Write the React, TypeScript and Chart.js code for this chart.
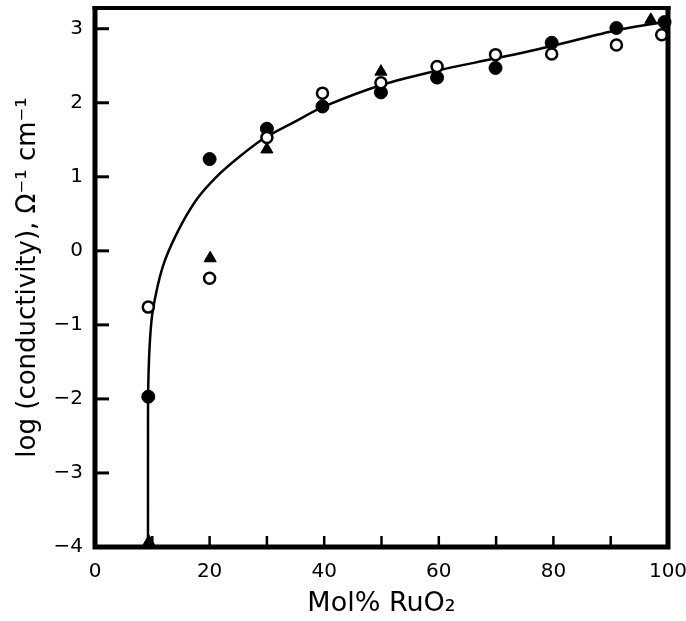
import React, { useEffect, useRef } from "react";
import { Chart, registerables } from "chart.js";

Chart.register(...registerables);

// Filled circles
const filledCircleX = [9.3, 20, 30, 39.7, 49.9, 59.7, 69.9, 79.7, 91, 99.4];
const filledCircleY = [-1.97, 1.24, 1.65, 1.95, 2.14, 2.34, 2.47, 2.81, 3.01, 3.09];
// Open circles
const openCircleX = [9.3, 20, 30, 39.7, 49.9, 59.7, 69.9, 79.7, 91, 98.9];
const openCircleY = [-0.76, -0.37, 1.53, 2.13, 2.27, 2.49, 2.65, 2.66, 2.78, 2.92];
// Filled triangles
const triangleX = [9.4, 20.1, 30, 49.9, 97];
const triangleY = [-3.93, -0.1, 1.37, 2.42, 3.12];
// Fitted curve
const curveX = [9.25, 9.25, 9.3, 9.6, 10.1, 11.8, 14.3, 17.7, 21.2, 25.2, 29.5, 35, 40, 50, 60, 70, 80, 91, 98.5];
const curveY = [-4, -2.5, -1.8, -1.2, -0.8, -0.22, 0.24, 0.69, 1.0, 1.27, 1.52, 1.75, 1.95, 2.24, 2.44, 2.6, 2.77, 2.98, 3.08];

// Inward tick marks
const xMinorTicks = [10, 20, 30, 40, 50, 60, 70, 80, 90];
const yMajorTicks = [-3, -2, -1, 0, 1, 2, 3];

const xTitle = "Mol% RuO\u2082";
const yTitle = "log (conductivity), \u03A9\u207B\u00B9 cm\u207B\u00B9";

const toPoints = (xs: number[], ys: number[]) => xs.map((x, i) => ({ x, y: ys[i] }));

const framePlugin = {
  id: "frameAndTicks",
  afterDatasetsDraw(chart: any) {
    const { ctx, chartArea, scales } = chart;
    const { left, right, top, bottom } = chartArea;
    ctx.save();
    ctx.strokeStyle = "#000";
    ctx.lineCap = "butt";
    ctx.lineWidth = 2.5;
    for (const v of xMinorTicks) {
      const px = scales.x.getPixelForValue(v);
      ctx.beginPath();
      ctx.moveTo(px, bottom);
      ctx.lineTo(px, bottom - 11);
      ctx.stroke();
    }
    ctx.lineWidth = 3;
    for (const v of yMajorTicks) {
      const py = scales.y.getPixelForValue(v);
      ctx.beginPath();
      ctx.moveTo(left, py);
      ctx.lineTo(left + 14, py);
      ctx.stroke();
    }
    ctx.lineWidth = 5;
    ctx.beginPath();
    ctx.moveTo(left, top - 2);
    ctx.lineTo(left, bottom + 2.5);
    ctx.moveTo(left - 2.5, bottom);
    ctx.lineTo(right + 2.5, bottom);
    ctx.moveTo(right, bottom + 2.5);
    ctx.lineTo(right, top - 2);
    ctx.stroke();
    ctx.lineWidth = 4;
    ctx.beginPath();
    ctx.moveTo(left - 2.5, top);
    ctx.lineTo(right + 2.5, top);
    ctx.stroke();
    ctx.restore();
  },
};

export default function App() {
  const canvasRef = useRef<HTMLCanvasElement | null>(null);

  useEffect(() => {
    if (!canvasRef.current) return;
    Chart.defaults.font.family = "'DejaVu Sans', sans-serif";
    const chart = new Chart(canvasRef.current, {
      type: "scatter",
      data: {
        datasets: [
          {
            label: "open",
            data: toPoints(openCircleX, openCircleY),
            pointStyle: "circle",
            pointRadius: 5.5,
            pointBorderWidth: 2.5,
            pointBackgroundColor: "#fff",
            pointBorderColor: "#000",
            clip: false,
          },
          {
            label: "triangle",
            data: toPoints(triangleX, triangleY),
            pointStyle: "triangle",
            pointRadius: 7,
            pointBorderWidth: 1,
            pointBackgroundColor: "#000",
            pointBorderColor: "#000",
            clip: false,
          },
          {
            label: "filled",
            data: toPoints(filledCircleX, filledCircleY),
            pointStyle: "circle",
            pointRadius: 6.5,
            pointBorderWidth: 1,
            pointBackgroundColor: "#000",
            pointBorderColor: "#000",
            clip: false,
          },
          {
            label: "curve",
            data: toPoints(curveX, curveY),
            showLine: true,
            pointRadius: 0,
            borderColor: "#000",
            borderWidth: 2.5,
            tension: 0.3,
            clip: false,
          },
        ],
      },
      options: {
        responsive: false,
        animation: false,
        devicePixelRatio: 1,
        layout: { padding: { top: 8, right: 18, left: 0, bottom: 0 } },
        plugins: { legend: { display: false }, tooltip: { enabled: false } },
        scales: {
          x: {
            type: "linear",
            min: 0,
            max: 100,
            grid: { display: false, drawTicks: false },
            border: { display: false },
            ticks: {
              stepSize: 20,
              color: "#000",
              padding: 13,
              font: { size: 20 },
              maxRotation: 0,
            },
            title: {
              display: true,
              text: xTitle,
              color: "#000",
              font: { size: 27 },
              padding: { top: 0, bottom: 1 },
            },
            afterFit: (scale: any) => {
              scale.height = 74;
              scale.paddingLeft = 0;
              scale.paddingRight = 0;
              scale.paddingTop = 0;
              scale.paddingBottom = 0;
            },
          },
          y: {
            type: "linear",
            min: -4,
            max: 3.28,
            grid: { display: false, drawTicks: false },
            border: { display: false },
            ticks: {
              stepSize: 1,
              includeBounds: false,
              color: "#000",
              padding: 12,
              font: { size: 20 },
              callback: (v: any) => {
                const n = Number(v);
                if (!Number.isInteger(n)) return "";
                return n < 0 ? "\u2212" + Math.abs(n) : String(n);
              },
            },
            title: {
              display: true,
              text: yTitle,
              color: "#000",
              font: { size: 26 },
              padding: { top: 13, bottom: 0 },
            },
            afterFit: (scale: any) => {
              scale.width = 95;
              scale.paddingLeft = 0;
              scale.paddingRight = 0;
              scale.paddingTop = 0;
              scale.paddingBottom = 0;
            },
          },
        },
      },
      plugins: [framePlugin],
    });
    return () => chart.destroy();
  }, []);

  return (
    <div style={{ position: "absolute", left: 0, top: 0, width: 686, height: 621, background: "#fff" }}>
      <canvas ref={canvasRef} width={686} height={621} style={{ display: "block" }} />
    </div>
  );
}
